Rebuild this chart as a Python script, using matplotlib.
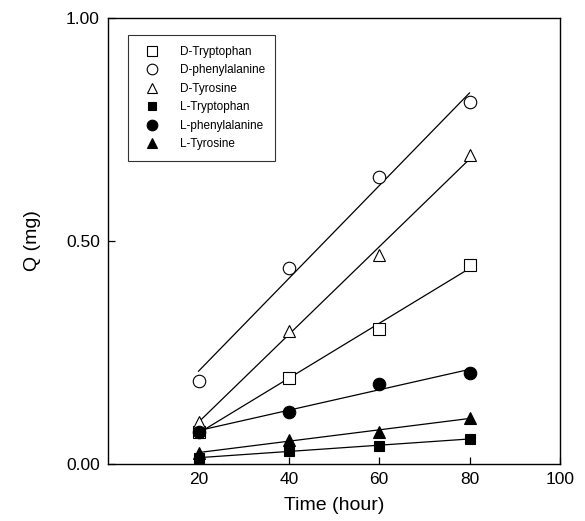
import numpy as np
import matplotlib
matplotlib.use("Agg")
import matplotlib.pyplot as plt

plt.rcParams['font.family'] = ['Liberation Sans', 'DejaVu Sans']

# time points (hour)
time = [20, 40, 60, 80]

# Q (mg)
d_trp = [0.072, 0.193, 0.303, 0.446]
d_phe = [0.186, 0.439, 0.643, 0.812]
d_tyr = [0.094, 0.298, 0.469, 0.693]
l_trp = [0.013, 0.029, 0.040, 0.056]
l_phe = [0.072, 0.117, 0.179, 0.204]
l_tyr = [0.024, 0.054, 0.072, 0.103]

labels = ['D-Tryptophan', 'D-phenylalanine', 'D-Tyrosine',
          'L-Tryptophan', 'L-phenylalanine', 'L-Tyrosine']
series = [d_trp, d_phe, d_tyr, l_trp, l_phe, l_tyr]
markers = ['s', 'o', '^', 's', 'o', '^']
filled = [False, False, False, True, True, True]
msizes = [8, 9, 9, 7, 9, 8]

fig = plt.figure(figsize=(5.85, 5.21), dpi=100)
ax = fig.add_axes([0.185, 0.110, 0.772, 0.855])

for y, lab, m, f, ms in zip(series, labels, markers, filled, msizes):
    # linear fit drawn over the data range
    k, b = np.polyfit(time, y, 1)
    xx = np.array([time[0], time[-1]])
    ax.plot(xx, k * xx + b, color='black', lw=0.9, zorder=2)
    ax.plot(time, y, linestyle='none', marker=m, ms=ms,
            markerfacecolor='black' if f else 'white',
            markeredgecolor='black', markeredgewidth=0.8,
            label=lab, zorder=3)

ax.set_xlim(0, 100)
ax.set_ylim(0, 1.0)
ax.set_xticks([20, 40, 60, 80, 100])
ax.set_yticks([0.0, 0.5, 1.0])
ax.set_yticklabels(['0.00', '0.50', '1.00'])
ax.tick_params(direction='in', length=5, width=0.9, labelsize=12.5, pad=6)
for s in ax.spines.values():
    s.set_linewidth(1.0)

ax.set_xlabel('Time (hour)', fontsize=14, labelpad=7)
ax.set_ylabel('Q (mg)', fontsize=14, labelpad=18)

leg = ax.legend(loc='upper left', bbox_to_anchor=(0.03, 0.975), fontsize=8.5,
                frameon=True, fancybox=False, edgecolor='black',
                handletextpad=1.1, borderpad=0.9, labelspacing=0.55,
                handlelength=2.4, markerscale=0.85)
leg.get_frame().set_linewidth(0.8)

fig.savefig('out.png', dpi=100)
